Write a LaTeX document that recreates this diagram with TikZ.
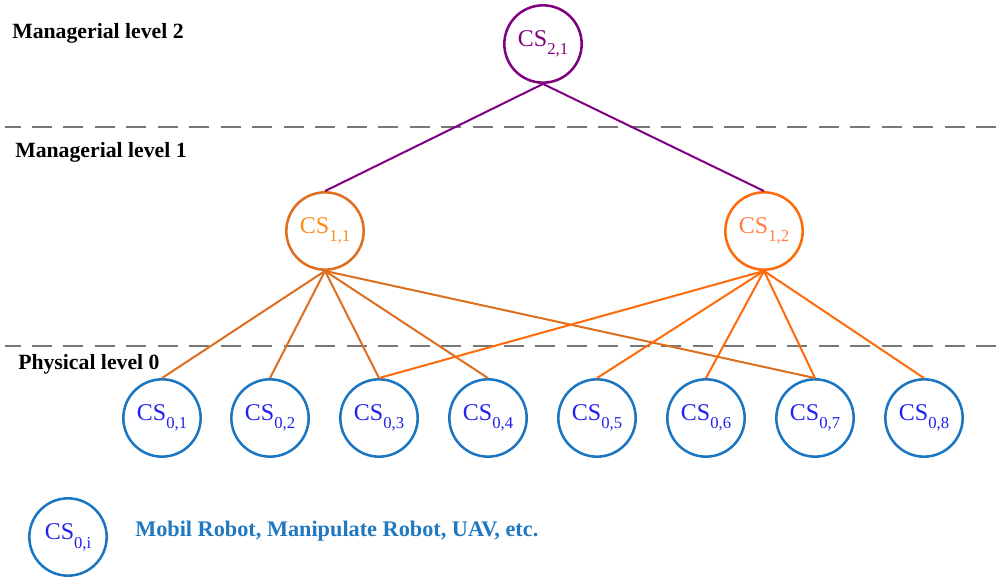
\documentclass[tikz,border=0pt]{standalone}
\usepackage{fontspec}
\setmainfont{Liberation Serif}
\usepackage{xcolor}
\definecolor{mgrpurple}{HTML}{800080}
\definecolor{oneleft}{HTML}{DD6E1E}
\definecolor{oneleftxt}{HTML}{FF8A1A}
\definecolor{oneright}{HTML}{FF6A0A}
\definecolor{onerightxt}{HTML}{FF7F40}
\definecolor{physblue}{HTML}{1A75C2}
\definecolor{physxt}{HTML}{2020F0}
\definecolor{legendblue}{HTML}{1F78C0}
\definecolor{sepgray}{HTML}{777777}
\newcommand{\cssub}[1]{\raisebox{-6.5pt}{\fontsize{12.5}{14}\selectfont #1}}

\begin{document}
\begin{tikzpicture}[
    x=0.75pt, y=-0.75pt,
    cs/.style={circle, draw, line width=1.9pt, minimum size=58pt,
               inner sep=0pt, font=\fontsize{18}{21}\selectfont},
    levelname/.style={anchor=west, inner sep=0pt,
                      font=\fontsize{16.3}{19}\selectfont\bfseries},
    sep/.style={sepgray, line width=2.2pt, dash pattern=on 15pt off 8.6pt},
    link/.style={line width=1.5pt}
  ]
    \useasboundingbox (0,0) rectangle (996,577);

    % level separators, drawn from the right so a full dash ends there
    \coordinate (sepAw) at (5,127);
    \coordinate (sepAe) at (996,127);
    \coordinate (sepBw) at (5,346);
    \coordinate (sepBe) at (996,346);
    \draw[sep] (sepAe) -- (sepAw);
    \draw[sep] (sepBe) -- (sepBw);

    \node[levelname] (lvltwo) at (12,33) {Managerial level 2};
    \node[levelname] (lvlone) at (15,152) {Managerial level 1};
    \node[levelname] (lvlzero) at (18,364) {Physical level 0};

    % coordinators
    \node[cs, draw=mgrpurple, text=mgrpurple] (cs21) at (543,44)
      {CS\cssub{2,1}};
    \node[cs, draw=oneleft, text=oneleftxt] (cs11) at (325,231)
      {CS\cssub{1,1}};
    \node[cs, draw=oneright, text=onerightxt] (cs12) at (764,231)
      {CS\cssub{1,2}};

    % physical systems
    \foreach \i/\x in {1/162, 2/270, 3/379, 4/488, 5/597, 6/706, 7/815, 8/924}
      \node[cs, draw=physblue, text=physxt] (cs0\i) at (\x,418)
        {CS\cssub{0,\i}};

    \draw[link, mgrpurple] (cs21.south) -- (cs11.north);
    \draw[link, mgrpurple] (cs21.south) -- (cs12.north);

    \foreach \j in {1,2,3,4,7}
      \draw[link, oneleft] (cs11.south) -- (cs0\j.north);
    \foreach \j in {3,5,6,7,8}
      \draw[link, oneright] (cs12.south) -- (cs0\j.north);

    % legend
    \node[cs, draw=physblue, text=physxt] (csleg) at (68,537)
      {CS\cssub{0,i}};
    \node[anchor=west, inner sep=0pt, text=legendblue,
          font=\fontsize{16.7}{19}\selectfont\bfseries] (legtext) at (135,531)
      {Mobil Robot, Manipulate Robot, UAV, etc.};
  \end{tikzpicture}
\end{document}
